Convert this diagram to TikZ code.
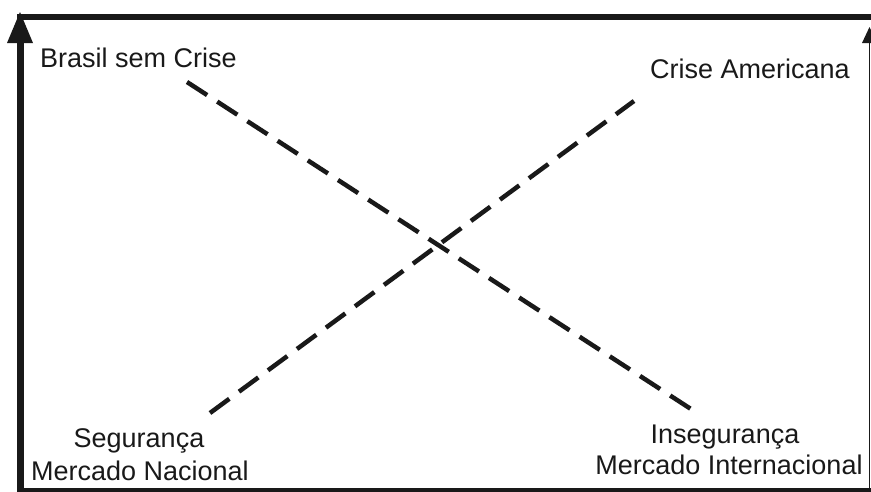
\documentclass[tikz,border=0pt]{standalone}
\usepackage{fontspec}
\setmainfont{Liberation Sans}
\begin{document}
\begin{tikzpicture}[x=1pt,y=-1pt,
  lbl/.style={inner sep=0pt,font=\fontsize{27}{32}\selectfont,text=black!90},
  frameline/.style={draw=black!90,line cap=butt},
  dashline/.style={draw=black!90,line width=4.5pt,dash pattern=on 24pt off 12pt},
  tip/.style={fill=black!90}]
\useasboundingbox (0,0) rectangle (871,491);
% frame
\draw[frameline,line width=6pt] (17,17) -- (871,17);
\draw[frameline,line width=7pt] (20,491) -- (20,30);
\fill[tip] (20,12) -- (33,43) -- (7,43) -- cycle;
\draw[frameline,line width=1.5pt] (869.5,491) -- (869.5,38);
\fill[tip] (869.5,27) -- (877,43) -- (862,43) -- cycle;
\draw[frameline,line width=6pt] (17,491) -- (871,491);
% labels
\node[lbl,anchor=base west] (bsc) at (40,67) {Brasil sem Crise};
\node[lbl,anchor=base east] (ca) at (850,78) {Crise Americana};
\node[lbl,anchor=base] (seg) at (139,447) {Segurança};
\node[lbl,anchor=base] (mn) at (140,480) {Mercado Nacional};
\node[lbl,anchor=base] (ins) at (725,443) {Insegurança};
\node[lbl,anchor=base] (mi) at (729,474) {Mercado Internacional};
% dashed lines
\coordinate (a1) at (187,82);
\coordinate (a2) at (694,411);
\coordinate (b1) at (210,413);
\coordinate (b2) at (634,101);
\draw[dashline] (a1) -- (a2);
\draw[dashline] (b1) -- (b2);
\end{tikzpicture}
\end{document}
